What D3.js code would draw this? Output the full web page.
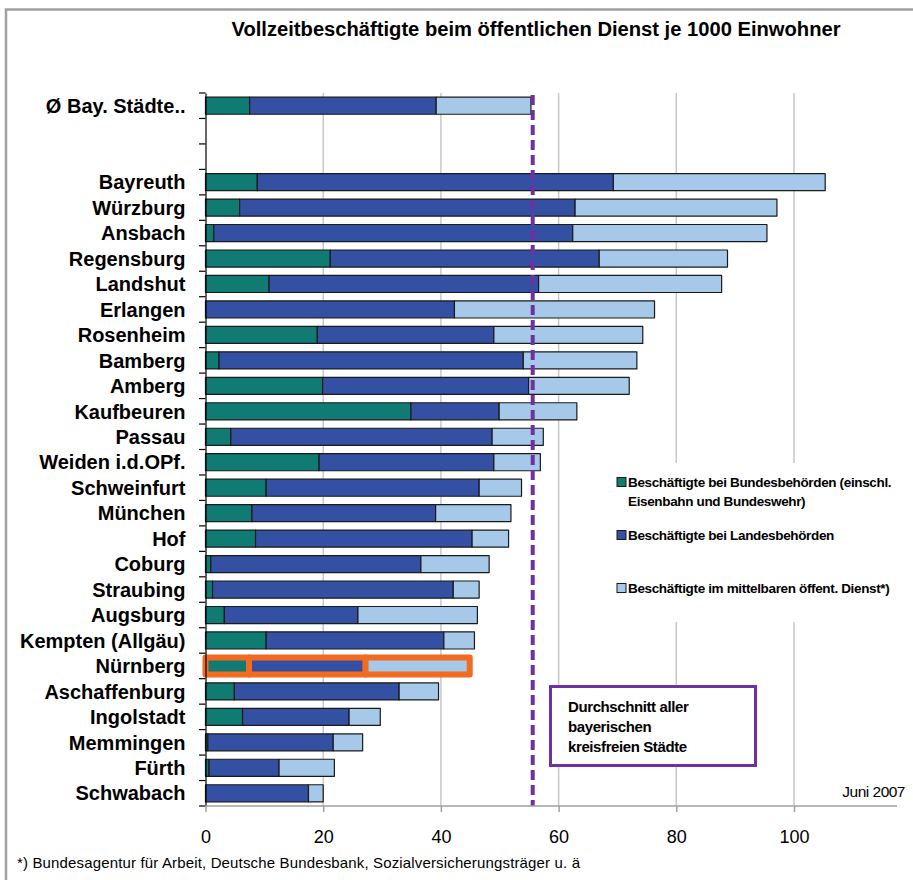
<!DOCTYPE html>
<html>
<head>
<meta charset="utf-8">
<script src="https://cdn.jsdelivr.net/npm/d3@7"></script>
<style>
  body { margin: 0; background: #fff; }
  svg { font-family: "Liberation Sans", Arial, sans-serif; }
</style>
</head>
<body>
<div class="chart-wrapper"></div>
<script>
// categories top to bottom, "" = empty row
const cities = ["Ø Bay. Städte..", "", "", "Bayreuth", "Würzburg", "Ansbach", "Regensburg", "Landshut",
  "Erlangen", "Rosenheim", "Bamberg", "Amberg", "Kaufbeuren", "Passau", "Weiden i.d.OPf.",
  "Schweinfurt", "München", "Hof", "Coburg", "Straubing", "Augsburg", "Kempten (Allgäu)",
  "Nürnberg", "Aschaffenburg", "Ingolstadt", "Memmingen", "Fürth", "Schwabach"];

const bund = [7.5, null, null, 8.8, 5.8, 1.4, 21.2, 10.8, 0, 19.0, 2.3, 19.9, 34.9, 4.3, 19.3,
  10.3, 7.9, 8.5, 0.9, 1.2, 3.2, 10.3, 7.4, 4.9, 6.3, 0.4, 0.6, 0];
const land = [31.7, null, null, 60.5, 57.0, 61.0, 45.7, 45.8, 42.3, 30.0, 51.7, 35.0, 15.0, 44.4, 29.7,
  36.2, 31.2, 36.8, 35.7, 40.9, 22.7, 30.2, 19.8, 28.0, 18.1, 21.3, 11.9, 17.5];
const mittelbar = [16.1, null, null, 36.0, 34.3, 33.0, 21.8, 31.1, 34.0, 25.3, 19.3, 17.1, 13.2, 8.7, 7.9,
  7.2, 12.8, 6.2, 11.6, 4.4, 20.3, 5.2, 17.7, 6.7, 5.3, 5.0, 9.4, 2.5];

const seriesNames = ["Beschäftigte bei Bundesbehörden (einschl.|Eisenbahn und Bundeswehr)",
  "Beschäftigte bei Landesbehörden",
  "Beschäftigte im mittelbaren öffent. Dienst*)"];
const seriesColors = ["#0f7b72", "#3450a2", "#a6c8e9"];

const avgAll = 55.6;
const xTicks = [0, 20, 40, 60, 80, 100];
const highlight = "Nürnberg";

const width = 913, height = 880;
const svg = d3.select('.chart-wrapper').append('svg')
  .attr('width', width).attr('height', height);

// frame
svg.append('path')
  .attr('d', 'M6,880 V9.5 H913')
  .attr('fill', 'none').attr('stroke', '#a0a0a0').attr('stroke-width', 2.5);

svg.append('text')
  .attr('x', 536).attr('y', 36)
  .attr('text-anchor', 'middle')
  .attr('font-weight', 'bold').attr('font-size', 20)
  .attr('textLength', 609).attr('lengthAdjust', 'spacingAndGlyphs')
  .text('Vollzeitbeschäftigte beim öffentlichen Dienst je 1000 Einwohner');

const x = d3.scaleLinear().domain([0, 117.5]).range([205.5, 897]);
const y = d3.scaleBand().domain(d3.range(cities.length)).range([93, 806])
  .paddingInner(0.33).paddingOuter(0.165);

// gridlines
svg.append('g')
  .selectAll('line')
  .data(xTicks.slice(1))
  .enter().append('line')
  .attr('x1', d => x(d)).attr('x2', d => x(d))
  .attr('y1', 93).attr('y2', 806)
  .attr('stroke', '#c8c8c8').attr('stroke-width', 1.5);

// stacked data
const rows = cities.map((c, i) => ({ name: c, i: i, bund: bund[i], land: land[i], mittelbar: mittelbar[i] }))
  .filter(d => d.land !== null);
const stack = d3.stack().keys(['bund', 'land', 'mittelbar'])(rows);

const bars = svg.append('g');
stack.forEach((layer, k) => {
  bars.selectAll('rect.s' + k)
    .data(layer.filter(d => d[1] - d[0] > 0))
    .enter().append('rect')
    .attr('class', 's' + k)
    .attr('x', d => x(d[0]))
    .attr('width', d => x(d[1]) - x(d[0]))
    .attr('y', d => y(d.data.i))
    .attr('height', y.bandwidth())
    .attr('fill', seriesColors[k])
    .attr('stroke', d => d.data.name === highlight ? '#f26b21' : '#1a1a1a')
    .attr('stroke-width', d => d.data.name === highlight ? 6 : 1.2)
    .attr('stroke-linejoin', 'round');
});

// average line
svg.append('line')
  .attr('x1', x(avgAll)).attr('x2', x(avgAll))
  .attr('y1', 95).attr('y2', 806)
  .attr('stroke', '#7030a0').attr('stroke-width', 4)
  .attr('stroke-dasharray', '10,5');

// y axis
const yAxis = d3.axisLeft(y).tickSize(0).tickFormat(i => cities[i]).tickPadding(20);
const gy = svg.append('g').attr('transform', 'translate(205.5,0)').call(yAxis);
gy.select('.domain').attr('stroke', '#000').attr('stroke-width', 1.2);
gy.selectAll('text').attr('font-size', 20).attr('font-weight', 'bold')
  .attr('font-family', '"Liberation Sans", Arial, sans-serif').attr('fill', '#000')
  .attr('dy', '0.36em');
gy.selectAll('line.bound')
  .data(d3.range(cities.length + 1))
  .enter().append('line')
  .attr('class', 'bound')
  .attr('x1', -6.5).attr('x2', 0)
  .attr('y1', i => i === cities.length ? 806 : y(i) - y.step() * y.paddingInner() / 2)
  .attr('y2', i => i === cities.length ? 806 : y(i) - y.step() * y.paddingInner() / 2)
  .attr('stroke', '#000').attr('stroke-width', 1.2);

// x axis
const xAxis = d3.axisBottom(x).tickValues(xTicks).tickSize(6).tickPadding(18).tickFormat(d3.format('d'));
const gx = svg.append('g').attr('transform', 'translate(0,806)').call(xAxis);
gx.select('.domain').attr('stroke', '#a0a0a0').attr('stroke-width', 1.5).attr('d', 'M205.5,0H897');
gx.selectAll('.tick line').attr('stroke', '#a0a0a0').attr('stroke-width', 1.5);
gx.selectAll('text').attr('font-size', 18).attr('fill', '#000')
  .attr('font-family', '"Liberation Sans", Arial, sans-serif');

// legend
const legend = svg.append('g');
legend.append('rect').attr('x', 600).attr('y', 463).attr('width', 306).attr('height', 159).attr('fill', '#fff');
const legendY = [482, 535, 588];
seriesNames.forEach((name, k) => {
  legend.append('rect')
    .attr('x', 617).attr('y', legendY[k] - 4.5).attr('width', 9).attr('height', 9)
    .attr('fill', seriesColors[k]).attr('stroke', '#1a1a1a').attr('stroke-width', 1);
  name.split('|').forEach((line, j) => {
    legend.append('text')
      .attr('x', 628).attr('y', legendY[k] + 5 + j * 19)
      .attr('font-size', 13.5).attr('font-weight', 'bold')
      .attr('letter-spacing', -0.35)
      .text(line);
  });
});

// annotation
const note = svg.append('g');
note.append('rect').attr('x', 550.5).attr('y', 686.5).attr('width', 205).attr('height', 79)
  .attr('fill', '#fff').attr('stroke', '#7030a0').attr('stroke-width', 3);
['Durchschnitt aller', 'bayerischen', 'kreisfreien Städte'].forEach((t, j) => {
  note.append('text')
    .attr('x', 568).attr('y', 711.5 + j * 20)
    .attr('font-size', 15).attr('font-weight', 'bold').attr('letter-spacing', -0.4)
    .text(t);
});

svg.append('text')
  .attr('x', 905).attr('y', 797).attr('text-anchor', 'end')
  .attr('font-size', 15.5).attr('letter-spacing', -0.5)
  .text('Juni 2007');

svg.append('text')
  .attr('x', 17).attr('y', 868)
  .attr('font-size', 15).attr('letter-spacing', 0.15)
  .text('*) Bundesagentur für Arbeit, Deutsche Bundesbank, Sozialversicherungsträger u. ä');
</script>
</body>
</html>
